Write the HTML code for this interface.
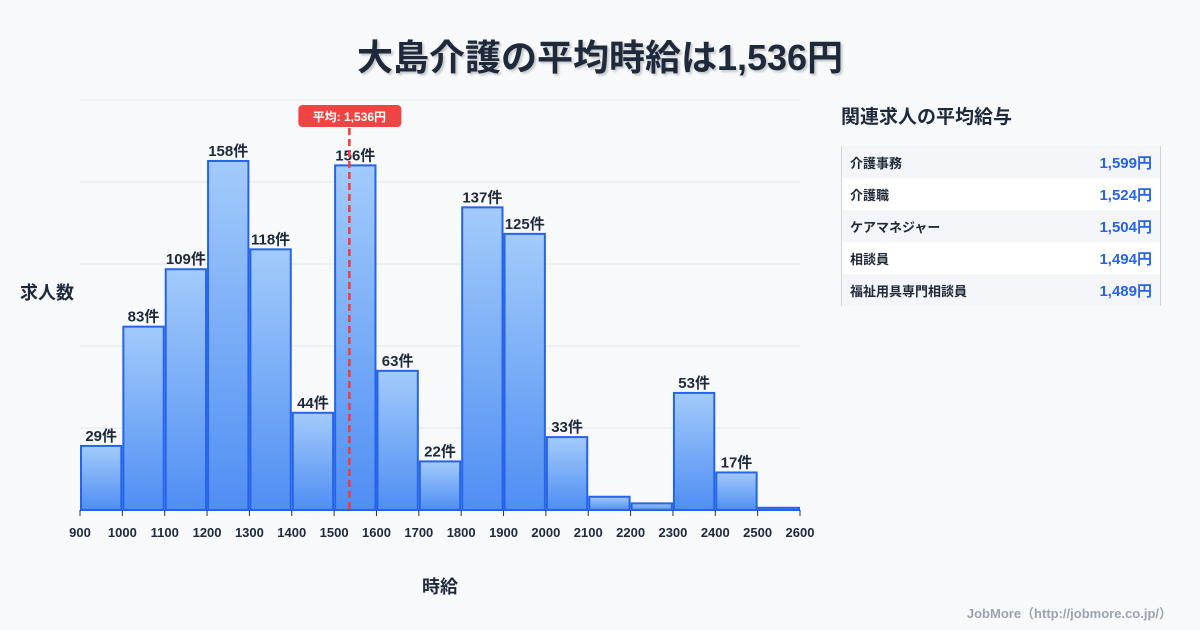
<!DOCTYPE html>
<html><head><meta charset="utf-8">
<style>
body{margin:0;width:1200px;height:630px;background:#f8f9fb;font-family:"Liberation Sans","Noto Sans CJK JP",sans-serif;position:relative;overflow:hidden;color:#1f2937}
#title{position:absolute;top:29px;left:0;width:1200px;text-align:center;font-size:36px;font-weight:bold;color:#1e293b;text-shadow:2px 2px 2px rgba(0,0,0,.2)}
#side-title{position:absolute;left:841px;top:102px;font-size:19px;font-weight:bold;color:#1e293b}
#table{position:absolute;left:841px;top:146px;width:318px;border-left:1px solid #cbd5e1;border-right:1px solid #cbd5e1}
.row{height:32px;display:flex;justify-content:space-between;align-items:center;padding:0 8px 0 8px;font-size:13px;font-weight:bold}
.row:nth-child(odd){background:#f3f5f8}.row:nth-child(even){background:#fff}
.row .v{color:#2563eb;font-size:15px}
#credit{position:absolute;right:28px;top:603px;font-size:13px;color:#9ca3af;font-weight:bold}
</style></head><body>
<div id="title">大島介護の平均時給は1,536円</div>
<svg id="chart" width="830" height="630" style="position:absolute;left:0;top:0"></svg>
<div id="side-title">関連求人の平均給与</div>
<div id="table">
<div class="row"><span>介護事務</span><span class="v">1,599円</span></div>
<div class="row"><span>介護職</span><span class="v">1,524円</span></div>
<div class="row"><span>ケアマネジャー</span><span class="v">1,504円</span></div>
<div class="row"><span>相談員</span><span class="v">1,494円</span></div>
<div class="row"><span>福祉用具専門相談員</span><span class="v">1,489円</span></div>
</div>
<div id="credit">JobMore（http://jobmore.co.jp/）</div>
<script>
const binStarts=[900,1000,1100,1200,1300,1400,1500,1600,1700,1800,1900,2000,2100,2200,2300,2400,2500];
const counts=[29,83,109,158,118,44,156,63,22,137,125,33,6,3,53,17,1];
const xTicks=[900,1000,1100,1200,1300,1400,1500,1600,1700,1800,1900,2000,2100,2200,2300,2400,2500,2600];
const average=1536;
const binWidth=100;
const xMin=900,xMax=2600,yMax=185.6;
const L=80,R=800,T=100,B=510;
const sx=v=>L+(v-xMin)/(xMax-xMin)*(R-L);
const sy=v=>B-v/yMax*(B-T);
const NS="http://www.w3.org/2000/svg";
const svg=document.getElementById('chart');
function mk(t,a,p){const e=document.createElementNS(NS,t);for(const k in a)e.setAttribute(k,a[k]);(p||svg).appendChild(e);return e;}
const defs=mk('defs',{});
const g=mk('linearGradient',{id:'bg',x1:0,y1:0,x2:0,y2:1},defs);
mk('stop',{offset:'0','stop-color':'#a3cbfb'},g);mk('stop',{offset:'1','stop-color':'#4f8ef3'},g);
for(let i=0;i<=5;i++){const y=T+i*(B-T)/5;const l=mk('line',{x1:L,x2:R,y1:y,y2:y,stroke:'#e2e6ec','stroke-width':1});
}
binStarts.forEach((s,i)=>{
 const x0=sx(s)+1,x1=sx(s+binWidth)-1,y=sy(counts[i]);
 const r=mk('rect',{x:x0,y:y,width:x1-x0,height:B-y,fill:'url(#bg)',stroke:'#2563eb','stroke-width':2});
 
 
 if(counts[i]>=10){const t=mk('text',{x:(x0+x1)/2,y:y-5,'text-anchor':'middle','font-size':15,'font-weight':'bold',fill:'#1e293b'});t.textContent=counts[i]+'件';
 }
});
xTicks.forEach(v=>{const x=sx(v);mk('line',{x1:x,x2:x,y1:B,y2:B+6,stroke:'#333','stroke-width':1});
 const t=mk('text',{x:x,y:B+27,'text-anchor':'middle','font-size':13,'font-weight':'bold',fill:'#1e293b'});t.textContent=v;
 });
const ax=sx(average);
const al=mk('line',{x1:ax,x2:ax,y1:128,y2:B,stroke:'#ef3b3b','stroke-width':2.5,'stroke-dasharray':'7,4'});

const ab=mk('rect',{x:ax-51,y:105,width:103,height:22,rx:4,fill:'#ef4444'});

const at=mk('text',{x:ax,y:121,'text-anchor':'middle','font-size':12,'font-weight':'bold',fill:'#fff'});at.textContent='平均: 1,536円';

const yt=mk('text',{x:20,y:299,'font-size':18,'font-weight':'bold',fill:'#1e293b'});yt.textContent='求人数';

const xt=mk('text',{x:440,y:593,'text-anchor':'middle','font-size':18,'font-weight':'bold',fill:'#1e293b'});xt.textContent='時給';

</script>
</body></html>
